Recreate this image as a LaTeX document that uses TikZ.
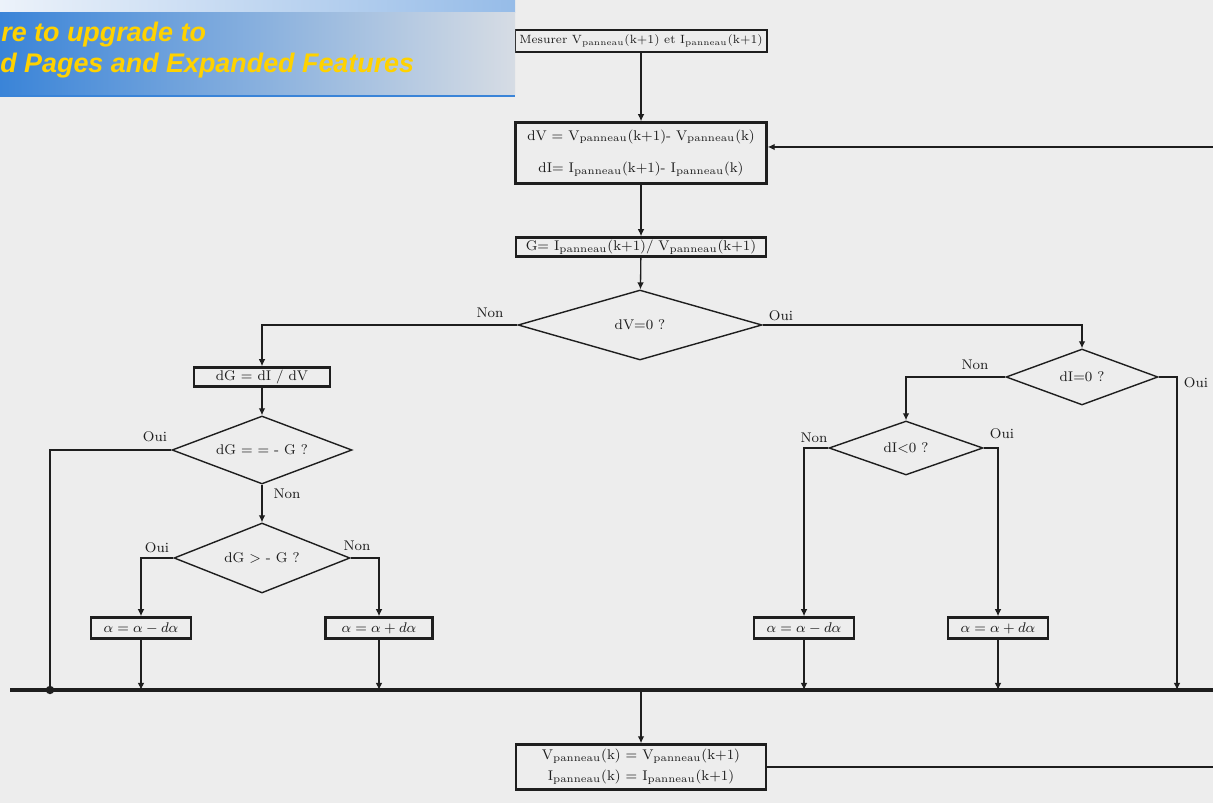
\documentclass[tikz,border=0pt]{standalone}
\usepackage{fontspec}
\newfontfamily\bannerfont{Liberation Sans}
\usetikzlibrary{shapes.geometric,arrows.meta}

\definecolor{bgpage}{RGB}{237,237,237}
\definecolor{ink}{RGB}{30,30,30}
\definecolor{bandA}{RGB}{58,132,216}
\definecolor{bandB}{RGB}{140,180,222}
\definecolor{bandC}{RGB}{214,220,228}
\definecolor{stripA}{RGB}{236,242,250}
\definecolor{stripB}{RGB}{150,188,232}
\definecolor{gold}{RGB}{255,210,0}

\newcommand{\Vp}{V\textsubscript{panneau}}
\newcommand{\Ip}{I\textsubscript{panneau}}

\begin{document}
\begin{tikzpicture}[x=0.02cm, y=-0.02cm,
	every node/.style={font=\fontsize{8}{9.5}\selectfont, text=ink},
	box/.style={draw=ink, line width=1.4pt, inner sep=1pt},
	cond/.style={draw=ink, diamond, line width=0.8pt, inner sep=0pt, aspect=3},
	link/.style={draw=ink, line width=0.75pt, -{Latex[length=4pt,width=3.8pt]}},
	wire/.style={draw=ink, line width=0.75pt},
	banner/.style={anchor=base west, inner sep=0pt, text=gold,
		font=\bannerfont\bfseries\itshape\fontsize{15.3}{17}\selectfont}]
	\fill[bgpage] (0,0) rectangle (1213,803);
	\useasboundingbox (0,0) rectangle (1213,803);

	% main column
	\node[box, minimum width=5.04cm, minimum height=0.44cm, inner sep=0.5pt, font=\fontsize{6.8}{8}\selectfont] (mes) at (641,41)
		{Mesurer \Vp(k+1) et \Ip(k+1)};
	\node[box, minimum width=5.02cm, minimum height=1.22cm, align=center] (dv) at (641,153)
		{dV = \Vp(k+1)- \Vp(k)\\[9pt] dI= \Ip(k+1)- \Ip(k)};
	\node[box, minimum width=5cm, minimum height=0.38cm] (gc) at (641,247) {G= \Ip(k+1)/ \Vp(k+1)};
	\node[cond, minimum width=4.88cm, minimum height=1.4cm] (tv) at (640,325) {dV=0 ?};

	% dV different from 0
	\node[box, minimum width=2.72cm, minimum height=0.38cm] (dg) at (262,377) {dG = dI / dV};
	\node[cond, minimum width=3.6cm, minimum height=1.36cm] (tg1) at (262,450) {dG = = - G ?};
	\node[cond, minimum width=3.52cm, minimum height=1.4cm] (tg2) at (262,558) {dG > - G ?};
	\node[box, minimum width=2cm, minimum height=0.42cm] (am1) at (141,628) {$\alpha = \alpha - d\alpha$};
	\node[box, minimum width=2.14cm, minimum height=0.42cm] (ap1) at (379,628) {$\alpha = \alpha + d\alpha$};

	% dV equal to 0
	\node[cond, minimum width=3.04cm, minimum height=1.12cm] (ti1) at (1082,377) {dI=0 ?};
	\node[cond, minimum width=3.08cm, minimum height=1.08cm] (ti2) at (906,448) {dI<0 ?};
	\node[box, minimum width=2cm, minimum height=0.42cm] (am2) at (804,628) {$\alpha = \alpha - d\alpha$};
	\node[box, minimum width=2cm, minimum height=0.42cm] (ap2) at (998,628) {$\alpha = \alpha + d\alpha$};

	\node[box, minimum width=5cm, minimum height=0.9cm, align=center] (upd) at (641,767)
		{\Vp(k) = \Vp(k+1)\\[2.5pt] \Ip(k) = \Ip(k+1)};

	\coordinate (busL) at (10,690);
	\coordinate (busR) at (1213,690);
	\coordinate (jn) at (50,690);
	\coordinate (b5) at (1177,690);
	\coordinate (fb) at (1213,147);

	\draw[link] (mes) -- (dv);
	\draw[link] (dv) -- (gc);
	\draw[link] (gc) -- (tv);
	\draw[link] (tv.west) -| (dg);
	\draw[link] (tv.east) -| (ti1);
	\draw[link] (dg) -- (tg1);
	\draw[wire] (tg1.west) -| (jn);
	\draw[link] (tg1) -- (tg2);
	\draw[link] (tg2.west) -| (am1);
	\draw[link] (tg2.east) -| (ap1);
	\draw[link] (ti1.west) -| (ti2);
	\draw[link] (ti1.east) -| (b5);
	\draw[link] (ti2.west) -| (am2);
	\draw[link] (ti2.east) -| (ap2);
	\foreach \b in {am1, ap1, am2, ap2}
		\draw[link] (\b) -- (\b |- busL);
	\draw[line width=2.3pt, ink] (busL) -- (busR);
	\fill[ink] (jn) circle (2.4pt);
	\draw[link] (upd.north |- busL) -- (upd);
	\draw[wire] (upd.east) -- (upd.east -| busR);
	\draw[link] (fb) -- (fb -| dv.east);

	\node (nA) at (490,313) {Non};
	\node (oA) at (781,316) {Oui};
	\node (oB) at (155,437) {Oui};
	\node (nB) at (287,494) {Non};
	\node (oC) at (157,548) {Oui};
	\node (nC) at (357,546) {Non};
	\node (nD) at (975,365) {Non};
	\node (oD) at (1196,383) {Oui};
	\node (nE) at (814,438) {Non};
	\node (oE) at (1002,434) {Oui};

	% banner
	\shade[left color=stripA, right color=stripB] (0,0) rectangle (515,13);
	\shade[left color=bandA, middle color=bandB, right color=bandC] (0,13) rectangle (515,95);
	\fill[bandA] (0,95) rectangle (515,97);
	\node[banner] (ban1) at (1,42) {re to upgrade to};
	\node[banner] (ban2) at (0,73) {d Pages and Expanded Features};
\end{tikzpicture}
\end{document}
